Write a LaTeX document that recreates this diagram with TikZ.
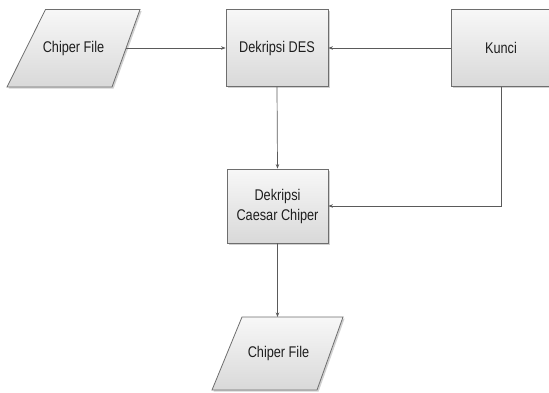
\documentclass[tikz,border=0pt]{standalone}
\usepackage{fontspec}
\setmainfont[FakeStretch=0.82]{Liberation Sans}
\usetikzlibrary{shadows,arrows.meta}
\definecolor{edge}{HTML}{6E6E6E}
\definecolor{wire}{HTML}{5A5A5A}
\definecolor{ink}{HTML}{1E1E1E}
\tikzset{
  boxfill/.style={draw=edge, line width=0.8pt, top color=white!97!black,
    bottom color=white!85!black,
    drop shadow={shadow xshift=1.6pt, shadow yshift=-1.6pt, opacity=0.3, fill=black!60}},
  boxtext/.style={text=ink, align=center, font=\fontsize{15.5}{20}\selectfont},
  procbox/.style={boxfill, boxtext, rectangle, inner sep=0pt},
  wireline/.style={draw=wire, line width=0.7pt, -{Stealth[length=4.5pt,width=3.5pt]}}
}
\begin{document}
\begin{tikzpicture}[x=1pt,y=1pt]
\useasboundingbox (0,0) rectangle (549,392);
% input parallelogram
\path[boxfill] (45.5,382.5) -- (140,382.5) -- (112,305) -- (7,305) -- cycle;
\node[boxtext] (cf1) at (73.5,344) {Chiper File};
\coordinate (cf1r) at (126,344);
% process boxes
\node[procbox, minimum width=102pt, minimum height=77pt] (des) at (277,344) {Dekripsi DES};
\node[procbox, minimum width=100pt, minimum height=77pt] (kunci) at (501,344) {Kunci};
\node[procbox, minimum width=101pt, minimum height=74pt] (caesar) at (277.5,186) {Dekripsi\\Caesar Chiper};
% output parallelogram
\path[boxfill] (242,75) -- (343,75) -- (317,2) -- (212,2) -- cycle;
\node[boxtext] (cf2) at (278.5,38.5) {Chiper File};
\coordinate (cf2t) at (277.5,75);
% connectors
\draw[wireline] (cf1r) -- (des.west);
\draw[wireline] (kunci.west) -- (des.east);
\draw[wireline] (des.south) -- (caesar.north);
\draw[wireline] (kunci.south) |- (caesar.east);
\draw[wireline] (caesar.south) -- (cf2t);
\end{tikzpicture}
\end{document}
